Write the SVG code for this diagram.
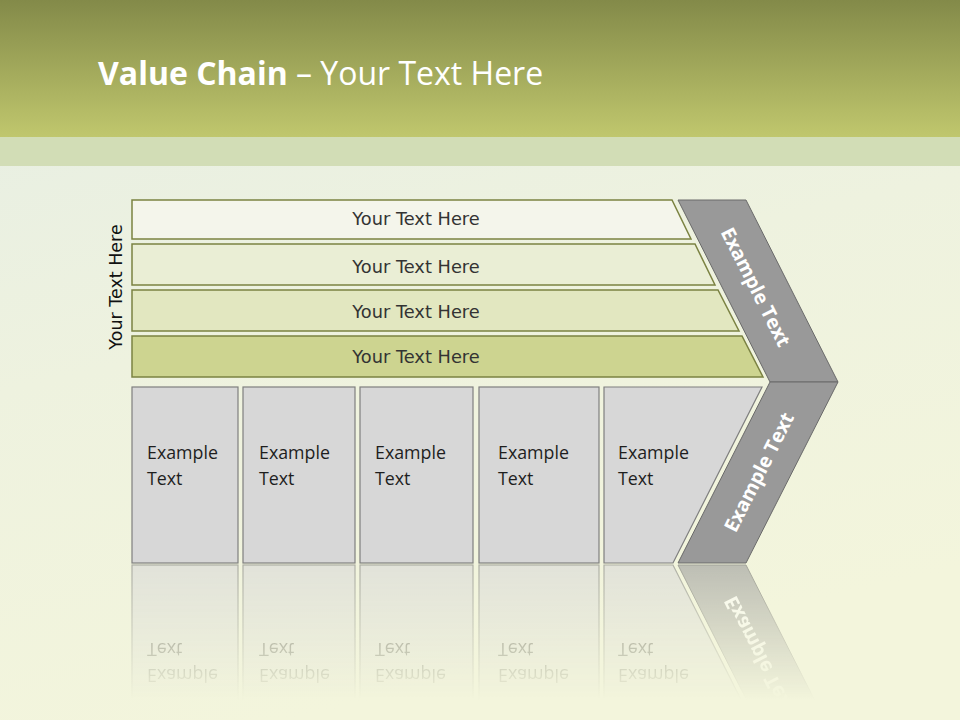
<svg xmlns="http://www.w3.org/2000/svg" width="960" height="720" viewBox="0 0 960 720">
<defs>
<linearGradient id="hdr" x1="0" y1="0" x2="0" y2="1">
<stop offset="0" stop-color="#838a49"/>
<stop offset="1" stop-color="#c0c76d"/>
</linearGradient>
<linearGradient id="bg" x1="0" y1="0" x2="0.3" y2="1">
<stop offset="0" stop-color="#e6eee4"/>
<stop offset="0.5" stop-color="#eef2df"/>
<stop offset="1" stop-color="#f3f5dc"/>
</linearGradient>
<linearGradient id="fade" gradientUnits="userSpaceOnUse" x1="0" y1="564" x2="0" y2="700">
<stop offset="0" stop-color="#fff" stop-opacity="0.6"/>
<stop offset="1" stop-color="#fff" stop-opacity="0"/>
</linearGradient>
<mask id="reflMask" maskUnits="userSpaceOnUse" x="0" y="560" width="960" height="160">
<rect x="0" y="560" width="960" height="160" fill="url(#fade)"/>
</mask>
<style>
.bar{stroke:#7b8242;stroke-width:1.5}
.bt{font-family:"DejaVu Sans",Verdana,sans-serif;font-size:17.8px;fill:#333;text-anchor:middle}
.box{fill:#d7d7d7;stroke:#7f7f7f;stroke-width:1.2}
.ex{font-family:"Open Sans","Liberation Sans",sans-serif;font-size:17.8px;fill:#1e1e1e}
.chev{fill:#999999;stroke:#6a6a6a;stroke-width:1}
.cht{font-family:"Open Sans","Liberation Sans",sans-serif;font-size:19.5px;font-weight:bold;fill:#ffffff;text-anchor:middle}
</style>
<g id="lower">
<g id="box1"><rect class="box" x="132" y="387" width="106" height="176"/><text class="ex" x="147" y="459">Example</text><text class="ex" x="147" y="485">Text</text></g>
<g id="box2"><rect class="box" x="243" y="387" width="112" height="176"/><text class="ex" x="259" y="459">Example</text><text class="ex" x="259" y="485">Text</text></g>
<g id="box3"><rect class="box" x="360" y="387" width="113" height="176"/><text class="ex" x="375" y="459">Example</text><text class="ex" x="375" y="485">Text</text></g>
<g id="box4"><rect class="box" x="479" y="387" width="120" height="176"/><text class="ex" x="498" y="459">Example</text><text class="ex" x="498" y="485">Text</text></g>
<g id="box5"><polygon class="box" points="604,387 762,387 673,563 604,563"/><text class="ex" x="618" y="459">Example</text><text class="ex" x="618" y="485">Text</text></g>
<g id="chevLow"><polygon class="chev" points="770,382 838,382 746,563 678,563" stroke="#eef2d2"/><text class="cht" transform="translate(759,472) rotate(-63.2)" dy="7">Example Text</text></g>
</g>
</defs>

<rect x="0" y="0" width="960" height="720" fill="url(#bg)"/>
<rect x="0" y="0" width="960" height="137" fill="url(#hdr)"/>
<rect x="0" y="137" width="960" height="29" fill="#d2ddb6"/>

<text x="98" y="85" font-family="Open Sans,Liberation Sans,sans-serif" font-size="32px" fill="#ffffff"><tspan font-weight="bold">Value Chain</tspan> – Your Text Here</text>

<g id="sideLabel"><text transform="translate(122,287) rotate(-90)" font-family="DejaVu Sans,Verdana,sans-serif" font-size="17.5px" fill="#111" text-anchor="middle">Your Text Here</text></g>

<g id="bar1"><polygon class="bar" points="132,200 672,200 691,239 132,239" fill="#f4f5eb"/><text class="bt" x="416" y="225">Your Text Here</text></g>
<g id="bar2"><polygon class="bar" points="132,244 695,244 715,285 132,285" fill="#eaeed5"/><text class="bt" x="416" y="273">Your Text Here</text></g>
<g id="bar3"><polygon class="bar" points="132,290 718,290 739,331 132,331" fill="#e2e7c0"/><text class="bt" x="416" y="318">Your Text Here</text></g>
<g id="bar4"><polygon class="bar" points="132,336 742,336 763,377 132,377" fill="#cdd490"/><text class="bt" x="416" y="363">Your Text Here</text></g>

<g id="chevUp"><polygon class="chev" points="678,200 746,200 838,382 770,382"/><text class="cht" transform="translate(756,287) rotate(63.2)" dy="7">Example Text</text></g>

<use href="#lower"/>

<g id="reflection" mask="url(#reflMask)">
<use href="#lower" transform="translate(0,1128) scale(1,-1)"/>
</g>
</svg>
